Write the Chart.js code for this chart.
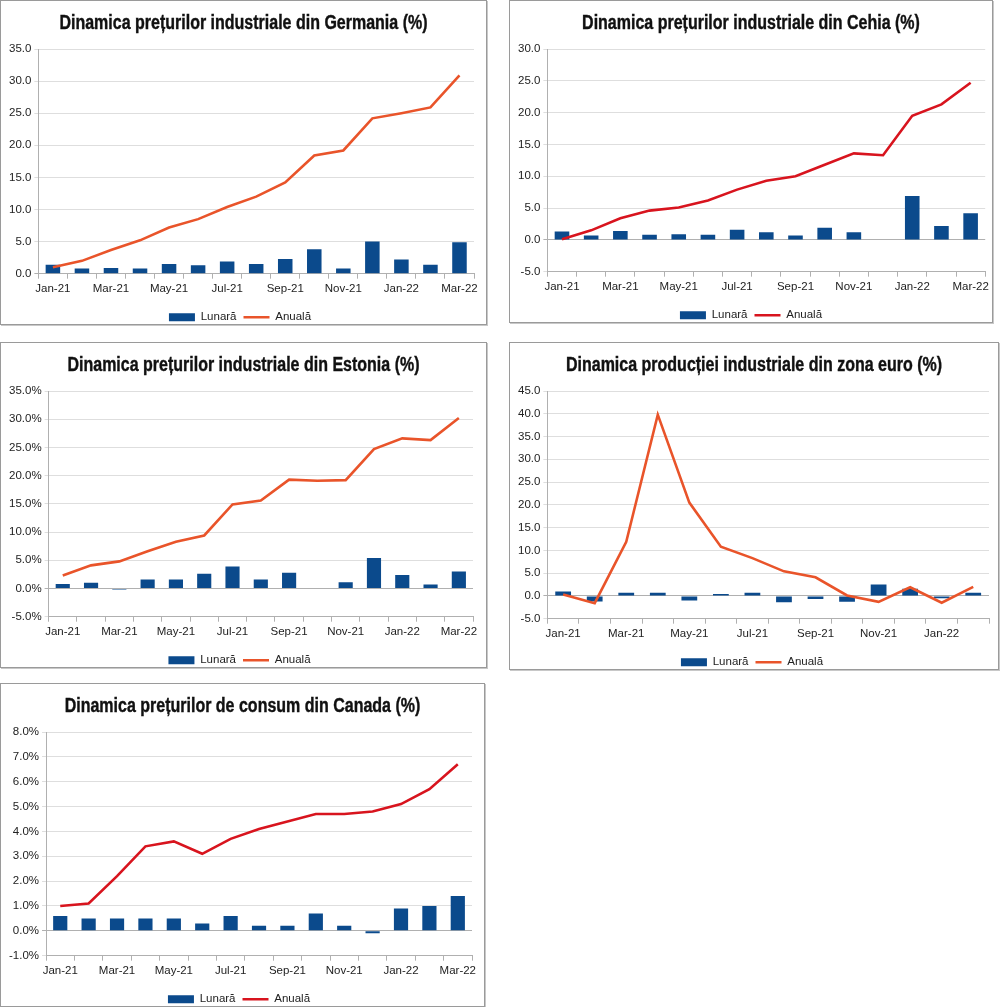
<!DOCTYPE html>
<html>
<head>
<meta charset="utf-8">
<script src="https://cdn.jsdelivr.net/npm/chart.js@4.4.1/dist/chart.umd.min.js"></script>
<style>
  html, body { margin: 0; padding: 0; background: #fff; }
  body { width: 1000px; height: 1007px; position: relative; overflow: hidden; }
  .panel {
    position: absolute;
    box-sizing: border-box;
    border: 1px solid #9a9a9a;
    box-shadow: 1px 1px 0 #c8c8c8;
    background: #fff;
  }
  .panel canvas { display: block; }
  .title {
    position: absolute;
    left: 0; right: 0; top: 11px;
    text-align: center;
    font-family: "Liberation Sans", Arial, sans-serif;
    font-weight: bold;
    font-size: 20px;
    line-height: 20px;
    color: #111;
    -webkit-text-stroke: 0.4px #111;
    white-space: nowrap;
    transform: scaleX(0.8);
    transform-origin: center;
  }
</style>
</head>
<body>

<div class="panel" style="left:0;top:0;width:487px;height:325px">
  <div class="title">Dinamica prețurilor industriale din Germania (%)</div><canvas id="germania"></canvas></div>
<div class="panel" style="left:509px;top:0;width:484px;height:323px">
  <div class="title">Dinamica prețurilor industriale din Cehia (%)</div><canvas id="cehia"></canvas></div>
<div class="panel" style="left:0;top:342px;width:487px;height:326px">
  <div class="title">Dinamica prețurilor industriale din Estonia (%)</div><canvas id="estonia"></canvas></div>
<div class="panel" style="left:509px;top:342px;width:490px;height:328px">
  <div class="title">Dinamica producției industriale din zona euro (%)</div><canvas id="euro"></canvas></div>
<div class="panel" style="left:0;top:683px;width:485px;height:324px">
  <div class="title">Dinamica prețurilor de consum din Canada (%)</div><canvas id="canada"></canvas></div>

<script>
// luni (Jan-21 .. Mar-22)
const months = ["Jan-21", "Feb-21", "Mar-21", "Apr-21", "May-21", "Jun-21", "Jul-21", "Aug-21",
  "Sep-21", "Oct-21", "Nov-21", "Dec-21", "Jan-22", "Feb-22", "Mar-22"];
// zona euro are date doar pana in Feb-22
const monthsEuro = ["Jan-21", "Feb-21", "Mar-21", "Apr-21", "May-21", "Jun-21", "Jul-21", "Aug-21",
  "Sep-21", "Oct-21", "Nov-21", "Dec-21", "Jan-22", "Feb-22"];

const germaniaLunara = [1.4, 0.8, 0.9, 0.8, 1.5, 1.3, 1.9, 1.5, 2.3, 3.8, 0.8, 5.0, 2.2, 1.4, 4.9];
const germaniaAnuala = [1.0, 2.0, 3.7, 5.2, 7.2, 8.5, 10.4, 12.0, 14.2, 18.4, 19.2, 24.2, 25.0, 25.9, 30.9];

const cehiaLunara = [1.3, 0.7, 1.4, 0.8, 0.9, 0.8, 1.6, 1.2, 0.7, 1.9, 1.2, -0.1, 6.9, 2.2, 4.2];
const cehiaAnuala = [0.1, 1.5, 3.4, 4.6, 5.1, 6.2, 7.9, 9.3, 10.0, 11.8, 13.6, 13.3, 19.5, 21.3, 24.7];

const estoniaLunara = [0.8, 1.0, -0.2, 1.6, 1.6, 2.6, 3.9, 1.6, 2.8, -0.1, 1.1, 5.4, 2.4, 0.7, 3.0];
const estoniaAnuala = [2.3, 4.1, 4.8, 6.6, 8.3, 9.4, 14.9, 15.6, 19.3, 19.1, 19.2, 24.7, 26.6, 26.3, 30.2];

const euroLunara = [1.0, -1.2, 0.7, 0.7, -1.0, 0.4, 0.7, -1.4, -0.7, -1.3, 2.5, 1.6, -0.5, 0.7];
const euroAnuala = [0.3, -1.6, 11.9, 39.8, 20.5, 10.8, 8.3, 5.4, 4.1, 0.1, -1.3, 1.9, -1.5, 2.0];

const canadaLunara = [0.6, 0.5, 0.5, 0.5, 0.5, 0.3, 0.6, 0.2, 0.2, 0.7, 0.2, -0.1, 0.9, 1.0, 1.4];
const canadaAnuala = [1.0, 1.1, 2.2, 3.4, 3.6, 3.1, 3.7, 4.1, 4.4, 4.7, 4.7, 4.8, 5.1, 5.7, 6.7];

const BLUE = "#0b4a8c";
const ORANGE = "#e9542a";
const RED = "#d8141e";
const FONT = "'Liberation Sans', Arial, sans-serif";

function makeChart(id, labels, lunara, anuala, lineColor, yMin, yMax, yStep, suffix, padRight) {
  const canvas = document.getElementById(id);
  const box = canvas.parentNode;
  canvas.width = box.clientWidth;
  canvas.height = box.clientHeight;

  new Chart(canvas, {
    data: {
      labels: labels,
      datasets: [
        {
          type: "line",
          label: "Anuală",
          data: anuala,
          borderColor: lineColor,
          backgroundColor: lineColor,
          borderWidth: 2.6,
          pointRadius: 0,
          tension: 0,
          pointStyle: "line",
          order: 1
        },
        {
          type: "bar",
          label: "Lunară",
          data: lunara,
          backgroundColor: BLUE,
          barPercentage: 0.5,
          categoryPercentage: 1,
          pointStyle: "rect",
          order: 2
        }
      ]
    },
    options: {
      responsive: false,
      animation: false,
      layout: { padding: { left: 5, right: padRight, top: 48, bottom: -9 } },
      plugins: {
        title: { display: false },
        legend: {
          position: "bottom",
          reverse: true,
          labels: {
            usePointStyle: true,
            pointStyleWidth: 26,
            boxHeight: 8,
            color: "#222",
            padding: 7,
            font: { family: FONT, size: 11.5 }
          }
        },
        tooltip: { enabled: false }
      },
      scales: {
        x: {
          grid: {
            display: true,
            drawOnChartArea: false,
            offset: true,
            tickLength: 5,
            color: "#b0b0b0"
          },
          border: { color: "#b0b0b0" },
          ticks: {
            autoSkip: false,
            maxRotation: 0,
            color: "#222",
            padding: 3,
            font: { family: FONT, size: 11.5 },
            callback: function (v, i) { return i % 2 === 0 ? this.getLabelForValue(v) : ""; }
          },
          afterFit: (scale) => { scale.height += 6; }
        },
        y: {
          min: yMin,
          max: yMax,
          grid: {
            color: (ctx) => ctx.tick && ctx.tick.value === 0 ? "#b0b0b0" : "#dedede",
            tickLength: 4
          },
          border: { color: "#b0b0b0" },
          ticks: {
            stepSize: yStep,
            color: "#222",
            padding: 3,
            font: { family: FONT, size: 11.5 },
            callback: (v) => v.toFixed(1) + suffix
          }
        }
      }
    }
  });
}

makeChart("germania", months, germaniaLunara, germaniaAnuala, ORANGE, 0, 35, 5, "", 12);
makeChart("cehia", months, cehiaLunara, cehiaAnuala, RED, -5, 30, 5, "", 5);
makeChart("estonia", months, estoniaLunara, estoniaAnuala, ORANGE, -5, 35, 5, "%", 13);
makeChart("euro", monthsEuro, euroLunara, euroAnuala, ORANGE, -5, 45, 5, "", 9);
makeChart("canada", months, canadaLunara, canadaAnuala, RED, -1, 8, 1, "%", 12);
</script>
</body>
</html>
